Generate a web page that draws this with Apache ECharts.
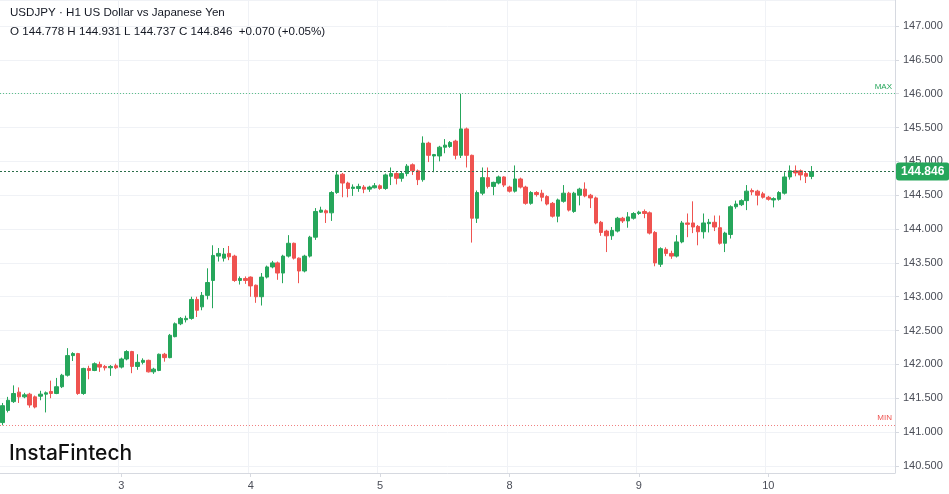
<!DOCTYPE html>
<html><head><meta charset="utf-8">
<script src="https://cdn.jsdelivr.net/npm/echarts@6/dist/echarts.min.js"></script>
<style>html,body{margin:0;padding:0;background:#fff}#c{width:949px;height:494px}</style>
</head><body><div id="c"></div>
<script>
const symbolTitle = 'USDJPY · H1 US Dollar vs Japanese Yen';
const ohlcLine = 'O 144.778 H 144.931 L 144.737 C 144.846  +0.070 (+0.05%)';
const logoText = 'InstaFintech';
const dayNames = ['2','3','4','5','8','9','10'];
const firstHour = 2;
const slotCount = 166;
const lastPrice = 144.846;

const opens = [141.14,141.32,141.45,141.59,141.52,141.56,141.52,141.53,141.56,141.60,
141.57,141.67,141.84,142.13,142.16,141.57,141.94,141.91,142.00,141.97,
141.95,141.98,141.96,142.08,142.19,141.97,142.03,142.06,141.89,141.91,
142.15,142.10,142.41,142.60,142.66,142.68,142.96,142.85,143.02,143.24,
143.60,143.57,143.64,143.60,143.24,143.27,143.29,143.17,143.00,143.29,
143.44,143.50,143.35,143.60,143.79,143.57,143.38,143.60,143.88,144.25,
144.27,144.24,144.54,144.81,144.68,144.60,144.60,144.62,144.59,144.61,
144.64,144.60,144.78,144.82,144.75,144.82,144.95,144.86,144.73,145.27,
145.08,145.08,145.21,145.22,145.30,145.09,145.48,145.09,144.16,144.53,
144.76,144.63,144.68,144.77,144.62,144.56,144.74,144.62,144.38,144.54,
144.53,144.48,144.38,144.19,144.41,144.53,144.26,144.50,144.59,144.50,
144.46,144.10,143.97,143.90,143.97,144.16,144.12,144.16,144.23,144.26,
144.24,143.95,143.48,143.70,143.64,143.60,143.81,144.09,144.09,144.04,
143.96,144.08,144.10,144.02,143.79,143.92,144.33,144.36,144.42,144.57,
144.56,144.52,144.47,144.43,144.44,144.53,144.77,144.86,144.86,144.82,
144.778];
const closes = [141.39,141.47,141.57,141.52,141.55,141.40,141.37,141.56,141.58,141.57,
141.67,141.84,142.13,142.16,141.57,141.94,141.91,142.01,141.96,141.95,
141.97,141.95,142.08,142.19,141.97,142.03,142.06,141.89,141.93,142.15,
142.10,142.43,142.60,142.68,142.68,142.96,142.80,143.02,143.21,143.61,
143.64,143.63,143.59,143.24,143.27,143.24,143.16,143.00,143.29,143.44,
143.50,143.35,143.60,143.79,143.57,143.38,143.60,143.88,144.26,144.28,
144.24,144.54,144.80,144.68,144.60,144.62,144.63,144.59,144.62,144.64,
144.60,144.80,144.82,144.75,144.82,144.93,144.86,144.73,145.27,145.09,
145.10,145.21,145.24,145.28,145.09,145.48,145.09,144.16,144.54,144.76,
144.63,144.69,144.77,144.65,144.56,144.74,144.62,144.38,144.54,144.51,
144.47,144.37,144.19,144.43,144.53,144.28,144.53,144.59,144.49,144.46,
144.09,143.95,143.90,143.98,144.16,144.12,144.18,144.23,144.25,144.23,
143.94,143.50,143.71,143.64,143.60,143.81,144.09,144.07,144.03,143.96,
144.09,144.10,144.03,143.79,143.94,144.33,144.37,144.42,144.56,144.55,
144.50,144.47,144.44,144.45,144.54,144.77,144.86,144.83,144.80,144.78,
144.846];
const lows = [141.10,141.29,141.43,141.43,141.50,141.36,141.35,141.47,141.29,141.50,
141.56,141.65,141.82,142.05,141.55,141.55,141.78,141.90,141.89,141.91,
141.83,141.93,141.94,142.06,141.87,141.92,142.00,141.88,141.86,141.90,
142.04,142.09,142.40,142.58,142.62,142.66,142.70,142.80,142.96,142.83,
143.52,143.52,143.54,143.22,143.18,143.19,143.00,142.91,142.87,143.27,
143.42,143.25,143.20,143.58,143.55,143.20,143.36,143.58,143.84,144.24,
144.09,144.12,144.52,144.47,144.47,144.49,144.55,144.53,144.55,144.60,
144.58,144.58,144.65,144.66,144.70,144.78,144.80,144.65,144.70,144.99,
144.84,145.00,145.12,145.20,145.03,145.05,144.91,143.80,144.09,144.50,
144.60,144.50,144.66,144.62,144.54,144.54,144.60,144.36,144.36,144.48,
144.41,144.35,144.17,144.10,144.39,144.26,144.24,144.35,144.47,144.31,
144.07,143.90,143.66,143.84,143.95,144.09,144.02,144.14,144.21,144.16,
143.92,143.45,143.44,143.60,143.56,143.58,143.79,143.88,143.94,143.76,
143.86,143.95,143.97,143.77,143.66,143.86,144.30,144.34,144.28,144.50,
144.35,144.45,144.42,144.32,144.42,144.51,144.73,144.78,144.72,144.68,
144.737];
const highs = [141.43,141.52,141.69,141.66,141.58,141.58,141.54,141.61,141.60,141.76,
141.80,141.86,142.24,142.18,142.17,141.95,141.98,142.03,142.04,141.99,
141.99,142.01,142.10,142.21,142.20,142.15,142.09,142.07,141.95,142.16,
142.17,142.45,142.62,142.70,142.72,143.00,143.00,143.07,143.42,143.76,
143.72,143.72,143.75,143.62,143.30,143.30,143.30,143.18,143.35,143.46,
143.53,143.52,143.62,143.91,143.80,143.58,143.62,143.90,144.31,144.33,
144.29,144.56,144.86,144.83,144.70,144.66,144.67,144.65,144.64,144.68,
144.66,144.82,144.91,144.84,144.85,144.96,144.97,144.88,145.37,145.29,
145.11,145.23,145.33,145.30,145.32,146.00,145.50,145.10,144.57,144.91,
144.91,144.70,144.79,144.78,144.64,144.94,144.76,144.64,144.56,144.56,
144.58,144.50,144.40,144.45,144.65,144.55,144.55,144.61,144.69,144.52,
144.48,144.12,143.99,144.03,144.18,144.18,144.25,144.25,144.27,144.29,
144.26,143.97,143.73,143.73,143.68,143.91,144.12,144.23,144.41,144.06,
144.23,144.15,144.20,144.20,143.96,144.35,144.42,144.44,144.65,144.60,
144.58,144.55,144.49,144.47,144.56,144.84,144.94,144.94,144.88,144.85,
144.931];

const GREEN = '#26a65b';
const RED = '#ef5350';

const categories = [];
for (let i = 0; i < slotCount; i++) {
  const t = i + firstHour;
  const h = t % 24;
  categories.push(dayNames[Math.floor(t / 24)] + ' ' + String(h).padStart(2, '0') + ':00');
}
const isDayStart = (i) => (i + firstHour) % 24 === 0;
const candles = opens.map((o, i) => [o, closes[i], lows[i], highs[i]]);

const chart = echarts.init(document.getElementById('c'), null, {renderer: 'canvas'});
chart.setOption({
  animation: false,
  backgroundColor: '#ffffff',
  grid: {left: -1, right: 54, top: 0, bottom: 21},
  xAxis: {
    type: 'category',
    data: categories,
    boundaryGap: true,
    axisLine: {show: true, lineStyle: {color: '#d6d9e0'}},
    axisTick: {show: true, alignWithLabel: true, interval: isDayStart, length: 4, lineStyle: {color: '#d6d9e0'}},
    axisLabel: {interval: isDayStart, formatter: (v) => v.split(' ')[0], color: '#4a4d57', fontSize: 11, margin: 7,
      fontFamily: 'Liberation Sans, Arial, sans-serif'},
    splitLine: {show: true, interval: isDayStart, lineStyle: {color: '#f0f2f6'}}
  },
  yAxis: {
    type: 'value',
    position: 'right',
    min: 140.395,
    max: 147.385,
    splitNumber: 15,
    scale: true,
    axisLine: {show: true, lineStyle: {color: '#d6d9e0'}},
    axisTick: {show: true, length: 4, lineStyle: {color: '#d6d9e0'}},
    axisLabel: {showMinLabel: false, showMaxLabel: false, formatter: (v) => v.toFixed(3), color: '#4a4d57',
      fontSize: 11, margin: 8, fontFamily: 'Liberation Sans, Arial, sans-serif'},
    splitLine: {show: true, lineStyle: {color: '#f0f2f6'}}
  },
  series: [{
    type: 'candlestick',
    data: candles,
    barWidth: 4,
    itemStyle: {color: GREEN, color0: RED, borderColor: GREEN, borderColor0: RED, borderWidth: 1},
    markLine: {
      silent: true,
      symbol: ['none', 'none'],
      animation: false,
      data: [
        {type: 'max', valueDim: 'highest', name: 'MAX',
          lineStyle: {color: '#5cc08a', type: [1, 2], width: 1},
          label: {show: true, formatter: 'MAX', position: 'insideEndTop', color: GREEN, fontSize: 8, distance: 3}},
        {type: 'min', valueDim: 'lowest', name: 'MIN',
          lineStyle: {color: '#f08080', type: [1, 2], width: 1},
          label: {show: true, formatter: 'MIN', position: 'insideEndTop', color: RED, fontSize: 8, distance: 3}},
        {yAxis: lastPrice, name: 'last',
          lineStyle: {color: '#2b6e4a', type: [2, 2], width: 1},
          label: {show: true, position: 'end', formatter: lastPrice.toFixed(3), backgroundColor: GREEN,
            color: '#ffffff', fontWeight: 'bold', fontSize: 12, padding: [3, 5, 3, 5], borderRadius: 3, distance: 1,
            fontFamily: 'Liberation Sans, Arial, sans-serif'}}
      ]
    }
  }],
  graphic: [
    {type: 'text', left: 10, top: 7, z: 100, style: {text: symbolTitle, font: '11.6px "Liberation Sans", Arial, sans-serif', fill: '#131722'}},
    {type: 'text', left: 10, top: 26, z: 100, style: {text: ohlcLine, font: '11.6px "Liberation Sans", Arial, sans-serif', fill: '#131722'}},
    {type: 'text', left: 9, top: 443, z: 100, style: {text: logoText, font: '500 21px Inter, "Open Sans", sans-serif', fill: '#111111'}}
  ]
});
</script>
</body></html>
